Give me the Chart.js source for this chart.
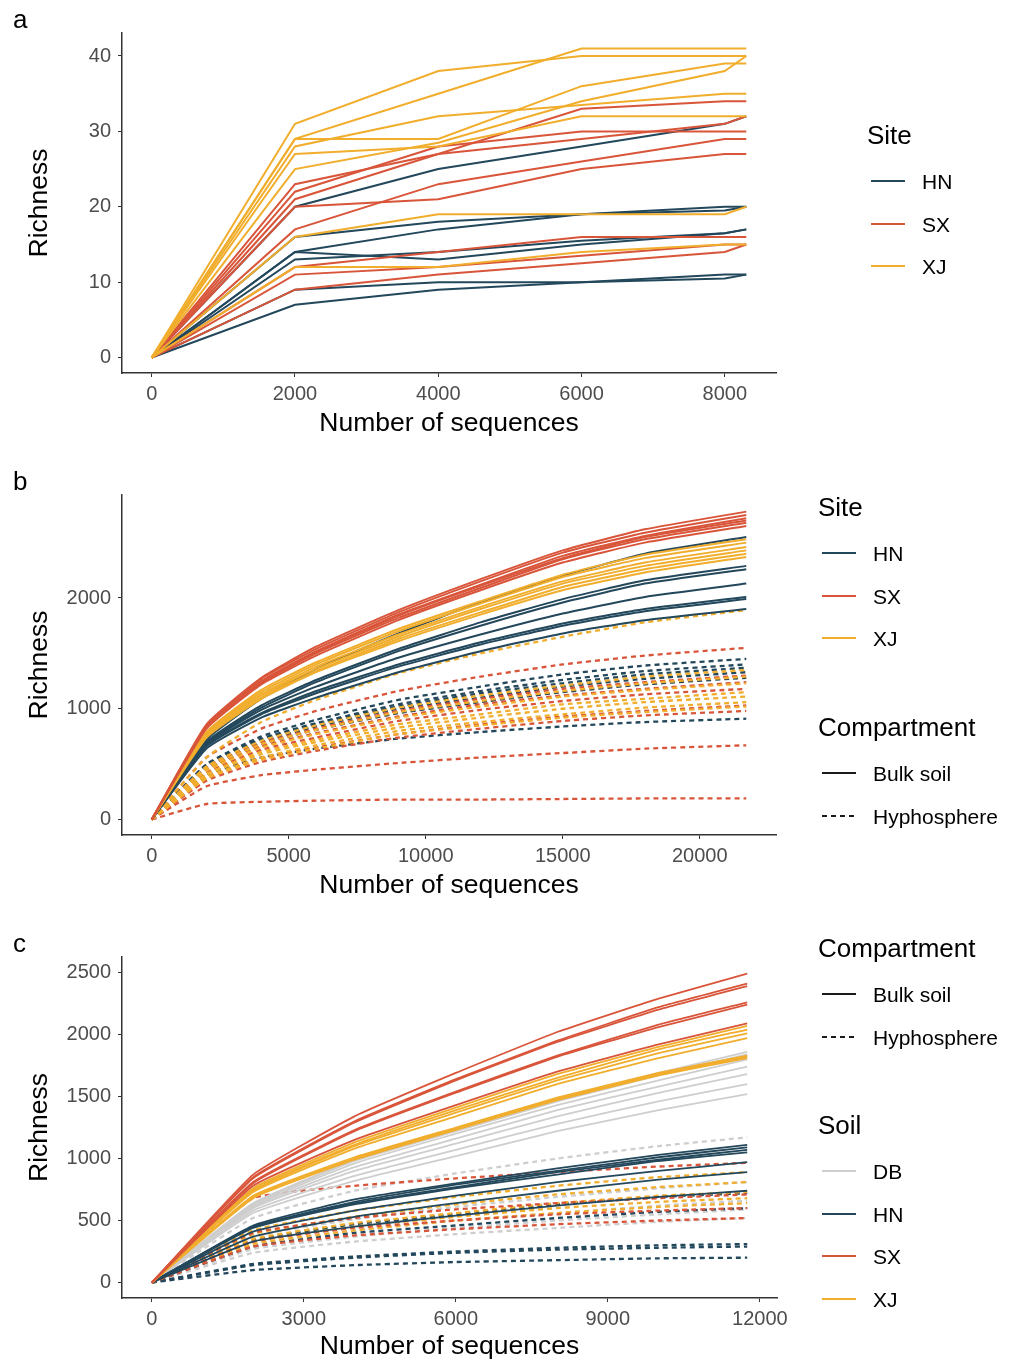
<!DOCTYPE html>
<html>
<head>
<meta charset="utf-8">
<script src="https://cdn.jsdelivr.net/npm/chart.js@4.4.1/dist/chart.umd.min.js"></script>
<style>
  body { margin: 0; background: #fff; }
  #page { position: relative; width: 1012px; height: 1364px; overflow: hidden;
          font-family: "Liberation Sans", Arial, sans-serif; color: #000; }
  #page canvas { position: absolute; left: 0; }
  .tag { position: absolute; left: 13px; font-size: 26px; line-height: 1; }
  .lg-title { position: absolute; font-size: 26px; line-height: 1; transform: translateY(-50%); white-space: nowrap; }
  .lg-label { position: absolute; font-size: 21px; line-height: 1; transform: translateY(-50%); white-space: nowrap; }
  .lg-key { position: absolute; width: 34px; height: 2px; transform: translateY(-50%); }
</style>
</head>
<body>
<div id="page">
  <canvas id="chartA" width="1012" height="458" style="top:0px"></canvas>
  <canvas id="chartB" width="1012" height="462" style="top:460px"></canvas>
  <canvas id="chartC" width="1012" height="442" style="top:922px"></canvas>
  <div class="tag" style="top:6px">a</div>
  <div class="tag" style="top:468px">b</div>
  <div class="tag" style="top:930px">c</div>
</div>
<script>
const COLORS = { DB: "#cecece", HN: "#23475b", SX: "#d9553a", XJ: "#f1ad2c" };
const FONT = "'Liberation Sans', Arial, sans-serif";

// ---- panel a: rarefaction by site ----
const seqA = [0, 2000, 4000, 6000, 8000, 8300];
const xTicksA = [0, 2000, 4000, 6000, 8000];
const yTicksA = [0, 10, 20, 30, 40];
const richA_HN = [
  [0, 20, 25, 28, 31, 32],
  [0, 14, 17, 19, 19.5, 20],
  [0, 16, 18, 19, 20, 20],
  [0, 14, 13, 15, 16.5, 17],
  [0, 13, 14, 15.5, 16.5, 17],
  [0, 9, 10, 10, 11, 11],
  [0, 7, 9, 10, 10.5, 11],
];
const richA_SX = [
  [0, 23, 27, 33, 34, 34],
  [0, 22, 28, 30, 30, 30],
  [0, 21, 27, 29, 31, 32],
  [0, 17, 23, 26, 29, 29],
  [0, 20, 21, 25, 27, 27],
  [0, 12, 14, 16, 16, 16],
  [0, 11, 12, 13.5, 15, 15],
  [0, 9, 11, 12.5, 14, 15],
];
const richA_XJ = [
  [0, 31, 38, 40, 40, 40],
  [0, 29, 35, 41, 41, 41],
  [0, 29, 29, 36, 39, 39],
  [0, 25, 28.5, 34, 38, 40],
  [0, 28, 32, 33.5, 35, 35],
  [0, 27, 28, 32, 32, 32],
  [0, 16, 19, 19, 19, 20],
  [0, 12, 12, 14, 15, 15],
];

// ---- panel b: site x compartment ----
const seqB = [0, 2000, 4000, 6000, 9000, 12000, 15000, 18000, 21700];
const xTicksB = [0, 5000, 10000, 15000, 20000];
const yTicksB = [0, 1000, 2000];
const bulkB_SX = [
  [0, 860, 1280, 1560, 1890, 2170, 2430, 2620, 2780],
  [0, 850, 1270, 1540, 1870, 2150, 2410, 2590, 2750],
  [0, 840, 1250, 1520, 1850, 2120, 2380, 2560, 2720],
  [0, 840, 1240, 1510, 1840, 2110, 2360, 2550, 2700],
  [0, 830, 1230, 1500, 1820, 2090, 2350, 2530, 2680],
  [0, 820, 1220, 1480, 1800, 2070, 2320, 2500, 2650],
];
const bulkB_XJ = [
  [0, 790, 1170, 1420, 1720, 1970, 2210, 2390, 2530],
  [0, 780, 1150, 1400, 1700, 1950, 2190, 2360, 2500],
  [0, 770, 1130, 1380, 1670, 1920, 2150, 2320, 2460],
  [0, 760, 1120, 1360, 1650, 1900, 2130, 2290, 2430],
  [0, 750, 1100, 1340, 1630, 1870, 2100, 2260, 2400],
  [0, 740, 1090, 1330, 1610, 1850, 2070, 2230, 2370],
];
const bulkB_HN = [
  [0, 720, 1090, 1360, 1680, 1960, 2200, 2400, 2550],
  [0, 700, 1030, 1260, 1540, 1780, 1990, 2160, 2290],
  [0, 690, 1010, 1240, 1520, 1750, 1960, 2130, 2260],
  [0, 680, 990, 1200, 1460, 1670, 1860, 2010, 2130],
  [0, 670, 960, 1160, 1400, 1600, 1770, 1900, 2010],
  [0, 660, 950, 1140, 1380, 1580, 1750, 1880, 1990],
  [0, 640, 920, 1100, 1330, 1520, 1680, 1800, 1900],
];
const hyphB_SX = [
  [0, 560, 820, 980, 1160, 1290, 1400, 1480, 1550],
  [0, 470, 690, 820, 980, 1090, 1180, 1240, 1300],
  [0, 450, 660, 780, 930, 1040, 1120, 1180, 1240],
  [0, 420, 630, 740, 890, 990, 1070, 1130, 1180],
  [0, 370, 550, 650, 770, 860, 930, 980, 1030],
  [0, 350, 520, 620, 740, 820, 890, 940, 980],
  [0, 300, 400, 450, 510, 560, 600, 640, 670],
  [0, 140, 160, 170, 180, 180, 185, 190, 190],
];
const hyphB_HN = [
  [0, 500, 750, 900, 1080, 1200, 1310, 1390, 1450],
  [0, 490, 730, 870, 1040, 1160, 1260, 1340, 1400],
  [0, 480, 720, 860, 1020, 1140, 1230, 1310, 1370],
  [0, 470, 700, 840, 1000, 1100, 1200, 1270, 1330],
  [0, 460, 680, 810, 960, 1060, 1150, 1220, 1280],
  [0, 400, 560, 640, 730, 790, 840, 880, 910],
];
const hyphB_XJ = [
  [0, 560, 880, 1080, 1320, 1500, 1650, 1780, 1890],
  [0, 480, 710, 850, 1010, 1120, 1210, 1290, 1350],
  [0, 460, 680, 810, 970, 1070, 1160, 1230, 1290],
  [0, 440, 650, 770, 920, 1020, 1110, 1170, 1230],
  [0, 410, 610, 720, 860, 950, 1040, 1090, 1150],
  [0, 400, 590, 700, 830, 920, 1000, 1060, 1110],
  [0, 380, 560, 670, 800, 880, 950, 1010, 1060],
  [0, 370, 540, 640, 770, 850, 920, 970, 1020],
];

// ---- panel c: soil x compartment ----
const seqC = [0, 2000, 4000, 6000, 8000, 10000, 11750];
const xTicksC = [0, 3000, 6000, 9000, 12000];
const yTicksC = [0, 500, 1000, 1500, 2000, 2500];
const bulkC_SX = [
  [0, 870, 1340, 1690, 2020, 2290, 2490],
  [0, 850, 1300, 1640, 1950, 2220, 2410],
  [0, 840, 1290, 1630, 1940, 2200, 2390],
  [0, 810, 1230, 1540, 1830, 2080, 2260],
  [0, 800, 1220, 1530, 1820, 2060, 2240],
  [0, 780, 1150, 1430, 1700, 1920, 2090],
];
const bulkC_XJ = [
  [0, 760, 1130, 1410, 1680, 1900, 2070],
  [0, 750, 1110, 1390, 1650, 1880, 2040],
  [0, 740, 1100, 1370, 1630, 1850, 2010],
  [0, 730, 1080, 1340, 1600, 1810, 1970],
  [0, 700, 1010, 1250, 1490, 1690, 1830],
  [0, 690, 1000, 1240, 1480, 1680, 1820],
  [0, 680, 990, 1230, 1470, 1670, 1810],
];
const bulkC_DB = [
  [0, 640, 990, 1240, 1480, 1690, 1860],
  [0, 630, 980, 1220, 1460, 1670, 1840],
  [0, 620, 960, 1200, 1430, 1630, 1800],
  [0, 610, 930, 1160, 1390, 1580, 1740],
  [0, 600, 900, 1120, 1340, 1530, 1680],
  [0, 580, 860, 1070, 1280, 1460, 1600],
  [0, 560, 820, 1020, 1220, 1390, 1520],
];
const bulkC_HN = [
  [0, 460, 670, 800, 920, 1030, 1110],
  [0, 450, 650, 790, 900, 1010, 1090],
  [0, 450, 640, 770, 890, 990, 1070],
  [0, 440, 630, 760, 870, 980, 1050],
  [0, 410, 580, 700, 810, 900, 970],
  [0, 370, 530, 640, 740, 830, 890],
  [0, 330, 450, 540, 620, 690, 740],
];
const hyphC_DB = [
  [0, 520, 740, 880, 1000, 1100, 1170],
  [0, 370, 510, 610, 690, 760, 810],
  [0, 300, 420, 500, 560, 620, 660],
  [0, 270, 370, 440, 500, 550, 590],
  [0, 240, 330, 390, 440, 490, 520],
];
const hyphC_SX = [
  [0, 680, 780, 840, 890, 935, 965],
  [0, 400, 520, 590, 640, 680, 710],
  [0, 330, 440, 500, 550, 580, 600],
  [0, 290, 380, 430, 470, 500, 520],
];
const hyphC_XJ = [
  [0, 420, 580, 690, 780, 850, 890],
  [0, 390, 530, 630, 710, 770, 810],
  [0, 350, 480, 560, 640, 700, 730],
  [0, 330, 450, 530, 600, 650, 680],
  [0, 310, 420, 500, 560, 610, 640],
];
const hyphC_HN = [
  [0, 340, 470, 550, 630, 690, 720],
  [0, 290, 400, 460, 520, 570, 600],
  [0, 150, 210, 250, 280, 300, 310],
  [0, 140, 200, 240, 265, 280, 290],
  [0, 100, 140, 165, 180, 195, 200],
];

function lines(xs, rows, color, dashed, width, tension) {
  return rows.map((row) => ({
    data: row.map((y, i) => ({ x: xs[i], y })),
    borderColor: color,
    borderWidth: width,
    borderDash: dashed ? [5, 4] : [],
    pointRadius: 0,
    fill: false,
    tension,
  }));
}

// Chart.js paints dataset 0 last, so the list is given bottom-first and flipped.
function stack(...groups) {
  return groups.flat().reverse();
}

function axis(min, max, tickValues, title, titlePad, isX) {
  return {
    type: "linear",
    min,
    max,
    afterBuildTicks: (scale) => {
      scale.ticks = tickValues.map((value) => ({ value }));
    },
    afterFit: (scale) => {
      if (isX) scale.height = 72;
      else scale.width = 122;
    },
    border: { display: true, color: "#333", width: 1.5 },
    grid: { drawOnChartArea: false, drawTicks: true, tickLength: 4, color: "#333", tickWidth: 1 },
    ticks: {
      autoSkip: false,
      maxRotation: 0,
      padding: isX ? 5 : 7,
      color: "#4d4d4d",
      font: { family: FONT, size: 20 },
      callback: (value) => String(value),
    },
    title: {
      display: true,
      text: title,
      color: "#000",
      font: { family: FONT, size: 26.5 },
      padding: isX ? { top: 0, bottom: titlePad } : { top: titlePad, bottom: 0 },
    },
  };
}

function panel(id, opts) {
  const canvas = document.getElementById(id);
  return new Chart(canvas, {
    type: "line",
    data: { datasets: opts.datasets },
    options: {
      responsive: false,
      animation: false,
      events: [],
      layout: {
        padding: { top: opts.top, right: opts.right, bottom: canvas.height - opts.bottom - 72, left: 0 },
      },
      plugins: { legend: { display: false }, tooltip: { enabled: false } },
      scales: {
        x: axis(opts.xMin, opts.xMax, opts.xTicks, "Number of sequences", opts.xTitlePad, true),
        y: axis(opts.yMin, opts.yMax, opts.yTicks, "Richness", 24, false),
      },
    },
  });
}

panel("chartA", {
  top: 33, bottom: 373, right: 236, xTitlePad: 5,
  xMin: -415, xMax: 8715, xTicks: xTicksA,
  yMin: -2.05, yMax: 43.05, yTicks: yTicksA,
  datasets: stack(
    lines(seqA, richA_HN, COLORS.HN, false, 2, 0),
    lines(seqA, richA_SX, COLORS.SX, false, 2, 0),
    lines(seqA, richA_XJ, COLORS.XJ, false, 2, 0)
  ),
});

panel("chartB", {
  top: 35, bottom: 375, right: 236, xTitlePad: 5,
  xMin: -1085, xMax: 22785, xTicks: xTicksB,
  yMin: -140, yMax: 2930, yTicks: yTicksB,
  datasets: stack(
    lines(seqB, hyphB_HN, COLORS.HN, true, 2.3, 0.15),
    lines(seqB, hyphB_SX, COLORS.SX, true, 2.3, 0.15),
    lines(seqB, hyphB_XJ, COLORS.XJ, true, 2.3, 0.15),
    lines(seqB, bulkB_HN, COLORS.HN, false, 2, 0.15),
    lines(seqB, bulkB_XJ, COLORS.XJ, false, 2, 0.15),
    lines(seqB, bulkB_SX, COLORS.SX, false, 2, 0.15)
  ),
});

panel("chartC", {
  top: 35, bottom: 376, right: 235, xTitlePad: 7,
  xMin: -588, xMax: 12338, xTicks: xTicksC,
  yMin: -125, yMax: 2625, yTicks: yTicksC,
  datasets: stack(
    lines(seqC, hyphC_DB, COLORS.DB, true, 2.3, 0.12),
    lines(seqC, hyphC_HN, COLORS.HN, true, 2.3, 0.12),
    lines(seqC, hyphC_XJ, COLORS.XJ, true, 2.3, 0.12),
    lines(seqC, hyphC_SX, COLORS.SX, true, 2.3, 0.12),
    lines(seqC, bulkC_DB, COLORS.DB, false, 1.8, 0.12),
    lines(seqC, bulkC_HN, COLORS.HN, false, 1.8, 0.12),
    lines(seqC, bulkC_XJ, COLORS.XJ, false, 1.8, 0.12),
    lines(seqC, bulkC_SX, COLORS.SX, false, 1.8, 0.12)
  ),
});

// ---- legends (HTML, beside each panel) ----
const siteKeys = ["HN", "SX", "XJ"];
const soilKeys = ["DB", "HN", "SX", "XJ"];
const compartmentKeys = ["Bulk soil", "Hyphosphere"];

function legendBlock(left, titleY, title, labels, styleFor) {
  const page = document.getElementById("page");
  const head = document.createElement("div");
  head.className = "lg-title";
  head.style.left = left + "px";
  head.style.top = titleY + "px";
  head.textContent = title;
  page.appendChild(head);
  labels.forEach((label, i) => {
    const y = titleY + 46 + i * 42.7;
    const key = document.createElement("div");
    key.className = "lg-key";
    key.style.left = left + 4 + "px";
    key.style.top = y + "px";
    key.style.background = styleFor(label);
    page.appendChild(key);
    const text = document.createElement("div");
    text.className = "lg-label";
    text.style.left = left + 55 + "px";
    text.style.top = y + "px";
    text.textContent = label;
    page.appendChild(text);
  });
}

const byColor = (label) => COLORS[label];
const byLinetype = (label) =>
  label === "Bulk soil" ? "#1a1a1a" : "repeating-linear-gradient(to right, #1a1a1a 0 5px, transparent 5px 9px)";

legendBlock(867, 135, "Site", siteKeys, byColor);
legendBlock(818, 507, "Site", siteKeys, byColor);
legendBlock(818, 727, "Compartment", compartmentKeys, byLinetype);
legendBlock(818, 948, "Compartment", compartmentKeys, byLinetype);
legendBlock(818, 1125, "Soil", soilKeys, byColor);
</script>
</body>
</html>
